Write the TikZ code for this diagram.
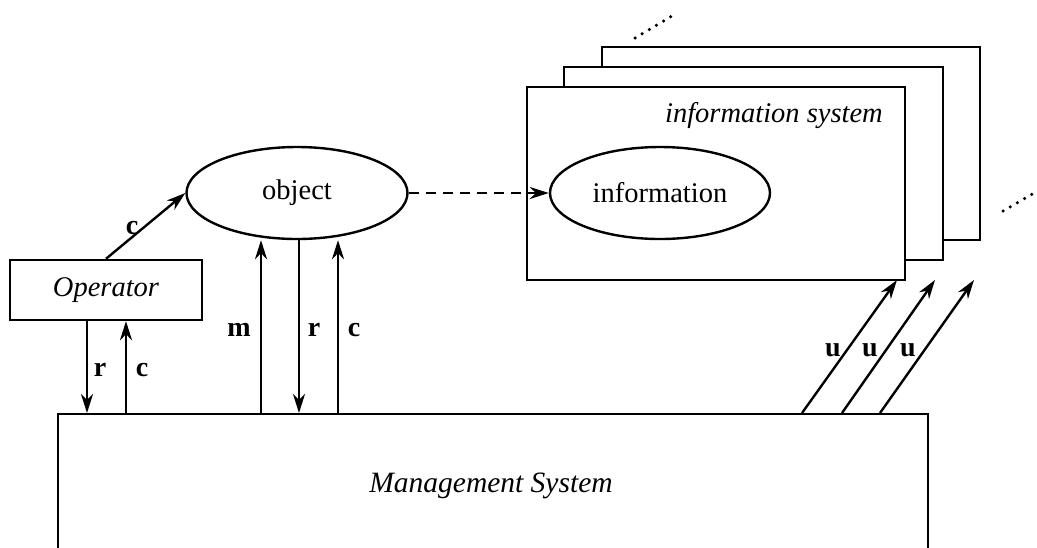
\documentclass[tikz,border=0pt]{standalone}
\usepackage{fontspec}
\setmainfont{Liberation Serif}
\usetikzlibrary{arrows.meta,shapes.geometric}
\begin{document}
\begin{tikzpicture}[x=1pt,y=-1pt, line width=2.4pt,
 arr/.style={-{Stealth[length=19pt,width=12pt,inset=6pt]}},
 box/.style={draw, rectangle, fill=white, inner sep=0pt},
 ell/.style={draw, ellipse, inner sep=0pt, fill=white, font=\fontsize{28.5}{33}\selectfont},
 lbl/.style={font=\fontsize{28}{32}\selectfont\bfseries, inner sep=0pt},
 txt/.style={font=\fontsize{28.5}{33}\selectfont\itshape, inner sep=0pt},
 dots/.style={line width=3.5pt, line cap=round, dash pattern=on 0pt off 8.3pt}]
\useasboundingbox (0,0) rectangle (1037,547);
% Management system (cut off at the bottom)
\begin{scope}
\clip (0,0) rectangle (1037,547);
\node[box, minimum width=870, minimum height=200, anchor=north west] (ms) at (57,413) {};
\end{scope}
\node[txt, font=\fontsize{29.5}{34}\selectfont\itshape] (mstext) at (491,486) {Management System};
% Operator
\node[box, txt, minimum width=192, minimum height=60] (op) at (106,290) {Operator};
% information system stack
\node[box, minimum width=378, minimum height=193] (isback) at (791,143.5) {};
\node[box, minimum width=379, minimum height=193] (ismid) at (753.5,163.5) {};
\node[box, minimum width=378, minimum height=193] (isfront) at (716,183.5) {};
\node[txt, anchor=base east] (istext) at (884,122) {information system};
% ellipses
\node[ell, minimum width=221, minimum height=92] (obj) at (297,193) {object};
\node[ell, minimum width=220, minimum height=92] (info) at (660,193) {information};
% dotted continuation marks
\draw[dots] (635,38) -- (677,13);
\draw[dots] (1003,211) -- (1036,192);
% coordinates on the management system top
\coordinate (a1) at (87,413);
\coordinate (a2) at (126,413);
\coordinate (a3) at (261,413);
\coordinate (a4) at (299,413);
\coordinate (a5) at (338,413);
\coordinate (u1) at (802,413);
\coordinate (u2) at (842,413);
\coordinate (u3) at (880,413);
\coordinate (t1) at (897,280);
\coordinate (t2) at (935,280);
\coordinate (t3) at (974,280);
% connectors
\draw[arr] (op.north) -- (obj.west);
\draw[arr] (op.south -| a1) -- (a1);
\draw[arr] (a2) -- (op.south -| a2);
\draw[arr] (a3) -- (obj.south -| a3);
\draw[arr] (obj.south -| a4) -- (a4);
\draw[arr] (a5) -- (obj.south -| a5);
\draw[arr, dash pattern=on 10pt off 7pt] (obj.east) -- (info.west);
\draw[arr] (u1) -- (t1);
\draw[arr] (u2) -- (t2);
\draw[arr] (u3) -- (t3);
% labels
\node[lbl] (lc0) at (132,228) {c};
\node[lbl] (lr1) at (100,370) {r};
\node[lbl] (lc1) at (142,370) {c};
\node[lbl] (lm) at (239,330) {m};
\node[lbl] (lr2) at (314,330) {r};
\node[lbl] (lc2) at (354,330) {c};
\node[lbl] (lu1) at (833,350) {u};
\node[lbl] (lu2) at (870,350) {u};
\node[lbl] (lu3) at (908,350) {u};
\end{tikzpicture}
\end{document}
